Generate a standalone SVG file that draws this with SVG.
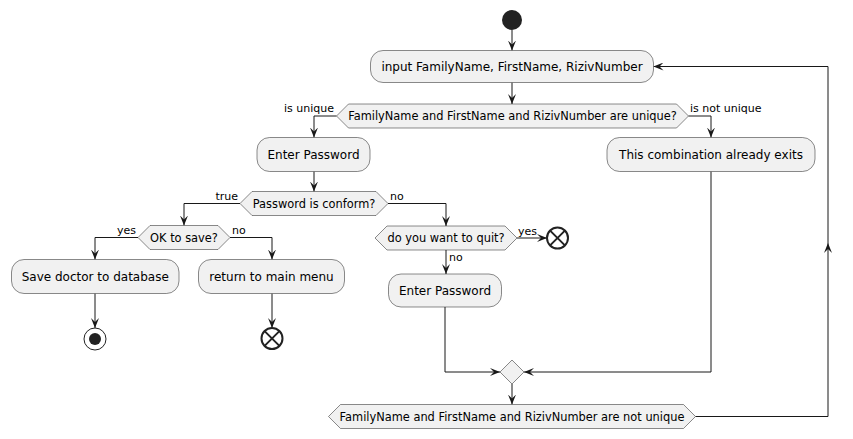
<svg xmlns="http://www.w3.org/2000/svg" width="853" height="439" viewBox="0 0 853 439">
<style>
.box{fill:#F1F1F1;stroke:#181818;stroke-width:0.5}
.dia{fill:#F1F1F1;stroke:#181818;stroke-width:0.5}
.t12{font-family:"DejaVu Sans",sans-serif;font-size:12px;fill:#000;text-anchor:middle}
.t11{font-family:"DejaVu Sans",sans-serif;font-size:11.4px;fill:#000;text-anchor:middle}
.lbl{font-family:"DejaVu Sans",sans-serif;font-size:11px;fill:#000}
.end{text-anchor:end}
.ln{fill:none;stroke:#181818;stroke-width:1}
.arr{fill:none;stroke:#181818;stroke-width:1;marker-end:url(#ah)}
</style>
<defs>
<marker id="ah" viewBox="0 0 10 8" refX="10" refY="4" markerWidth="10" markerHeight="8" markerUnits="userSpaceOnUse" orient="auto">
<path d="M0,0 L10,4 L0,8 L4,4 Z" fill="#181818"/>
</marker>
</defs>
<g id="connectors">
<path class="arr" d="M512,30 L512,50.5"/>
<path class="arr" d="M512,82.5 L512,104"/>
<path class="arr" d="M336.5,116 L314,116 L314,137.5"/>
<path class="arr" d="M688.5,116 L711,116 L711,137.5"/>
<path class="arr" d="M314,171.5 L314,191.5"/>
<path class="arr" d="M240,203.5 L184,203.5 L184,225.5"/>
<path class="arr" d="M388,203.5 L446,203.5 L446,226"/>
<path class="arr" d="M138,237.5 L95,237.5 L95,259.5"/>
<path class="arr" d="M230,237.5 L272,237.5 L272,259.5"/>
<path class="arr" d="M95,293.5 L95,328"/>
<path class="arr" d="M272,293.5 L272,328"/>
<path class="arr" d="M517,238 L547,238"/>
<path class="arr" d="M446,250 L446,274"/>
<path class="arr" d="M445,307 L445,372 L500,372"/>
<path class="arr" d="M711,171.5 L711,372 L524,372"/>
<path class="arr" d="M512,384 L512,404.5"/>
<path class="arr" d="M695.5,416.5 L828,416.5 L828,243"/>
<path class="arr" d="M828,243 L828,66.5 L653.5,66.5"/>
<text class="lbl end" x="334" y="112">is unique</text>
<text class="lbl" x="690" y="112">is not unique</text>
<text class="lbl end" x="238" y="200">true</text>
<text class="lbl" x="390" y="200">no</text>
<text class="lbl end" x="136" y="234">yes</text>
<text class="lbl" x="232" y="234">no</text>
<text class="lbl" x="518" y="235">yes</text>
<text class="lbl" x="449" y="261">no</text>
</g>
<g id="start"><circle cx="512" cy="20" r="10" fill="#222"/></g>
<g id="input"><rect class="box" x="370.5" y="50.5" width="283" height="32" rx="12.5"/><text class="t12" x="512" y="71">input FamilyName, FirstName, RizivNumber</text></g>
<g id="d_unique"><polygon class="dia" points="336.5,116 348.5,104 676.5,104 688.5,116 676.5,128 348.5,128"/><text class="t11" x="512.5" y="120">FamilyName and FirstName and RizivNumber are unique?</text></g>
<g id="enter_pw1"><rect class="box" x="257" y="137.5" width="113" height="34" rx="12.5"/><text class="t12" x="313.5" y="159">Enter Password</text></g>
<g id="exists"><rect class="box" x="607" y="137.5" width="208" height="34" rx="12.5"/><text class="t12" x="711" y="159">This combination already exits</text></g>
<g id="d_conform"><polygon class="dia" points="240,203.5 252,191.5 376,191.5 388,203.5 376,215.5 252,215.5"/><text class="t11" x="314" y="207.5">Password is conform?</text></g>
<g id="d_save"><polygon class="dia" points="138,237.5 150,225.5 218,225.5 230,237.5 218,249.5 150,249.5"/><text class="t11" x="184" y="241.5">OK to save?</text></g>
<g id="save"><rect class="box" x="11.5" y="259.5" width="167.5" height="34" rx="12.5"/><text class="t12" x="95.25" y="281">Save doctor to database</text></g>
<g id="ret"><rect class="box" x="198.5" y="259.5" width="146" height="34" rx="12.5"/><text class="t12" x="271.5" y="281">return to main menu</text></g>
<g id="stop"><circle cx="95" cy="339" r="11" fill="none" stroke="#222" stroke-width="1"/><circle cx="95" cy="339" r="6" fill="#222"/></g>
<g id="end1"><circle cx="272" cy="338.5" r="10.5" fill="none" stroke="#222" stroke-width="2"/><path d="M264.6,331.1 L279.4,345.9 M279.4,331.1 L264.6,345.9" stroke="#222" stroke-width="2"/></g>
<g id="d_quit"><polygon class="dia" points="375,238 387,226 505,226 517,238 505,250 387,250"/><text class="t11" x="446" y="242">do you want to quit?</text></g>
<g id="end2"><circle cx="557.5" cy="238" r="10.5" fill="none" stroke="#222" stroke-width="2"/><path d="M550.1,230.6 L564.9,245.4 M564.9,230.6 L550.1,245.4" stroke="#222" stroke-width="2"/></g>
<g id="enter_pw2"><rect class="box" x="388.5" y="274" width="113" height="33" rx="12.5"/><text class="t12" x="445" y="295">Enter Password</text></g>
<g id="merge"><polygon class="dia" points="500,372 512,360 524,372 512,384"/></g>
<g id="d_notunique"><polygon class="dia" points="328.5,416.5 340.5,404.5 683.5,404.5 695.5,416.5 683.5,428.5 340.5,428.5"/><text class="t11" x="512" y="420.5">FamilyName and FirstName and RizivNumber are not unique</text></g>
</svg>
